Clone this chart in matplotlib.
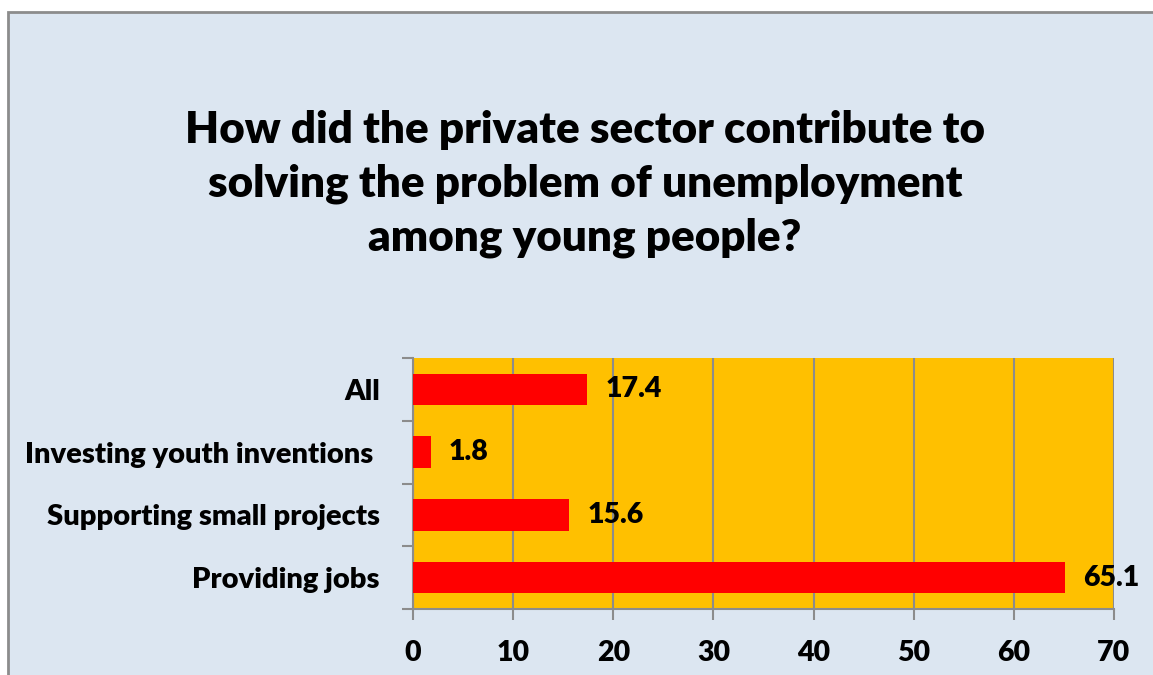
import matplotlib.pyplot as plt
from matplotlib.patches import Rectangle

# ------------------------
# Data
# ------------------------
categories = ['Providing jobs', 'Supporting small projects',
              'Investing youth inventions ', 'All']
values = [65.1, 15.6, 1.8, 17.4]
x_ticks = [0, 10, 20, 30, 40, 50, 60, 70]

title = ('How did the private sector contribute to\n'
         'solving the problem of unemployment\n'
         'among young people?')

plt.rcParams['font.family'] = ['Lato', 'DejaVu Sans']
FW = 'heavy'

W, H = 1153, 675
fig = plt.figure(figsize=(W / 100, H / 100), dpi=100)
fig.patch.set_facecolor('white')

# chart area background with grey frame (cut at right/bottom)
fig.patches.append(Rectangle((8 / W, -0.05), 1.1, 1 - 12 / H + 0.05,
                             transform=fig.transFigure, facecolor='#DCE6F1',
                             edgecolor='#8C8C8C', linewidth=2, zorder=-10))

# plot area
ax = fig.add_axes([413 / W, 1 - 609 / H, (1114 - 413) / W, (609 - 358) / H])
ax.set_facecolor('#FFC000')

y = range(len(categories))
ax.barh(y, values, height=0.5, color='#FF0000', zorder=3)
for yi, v in zip(y, values):
    ax.text(v + 1.8, yi, f'{v}', va='center', ha='left',
            fontsize=20.5, fontweight=FW, zorder=4)

ax.set_xlim(0, 70)
ax.set_ylim(-0.5, len(categories) - 0.5)
ax.set_xticks(x_ticks)
ax.set_xticklabels([str(t) for t in x_ticks], fontsize=20.5, fontweight=FW)
ax.set_yticks(y)
ax.set_yticklabels(categories, fontsize=21, fontweight=FW)
ax.set_yticks([-0.5, 0.5, 1.5, 2.5, 3.5], minor=True)
ax.tick_params(axis='y', which='major', length=0, pad=24)
ax.tick_params(axis='y', which='minor', length=8, width=1.5, color='#8C8C8C')
ax.tick_params(axis='x', length=8, width=1.5, color='#8C8C8C', pad=14)

ax.grid(axis='x', color='#8C8C8C', linewidth=1.5, zorder=1)
ax.set_axisbelow(True)
for side in ['top', 'right']:
    ax.spines[side].set_visible(False)
for side in ['left', 'bottom']:
    ax.spines[side].set_color('#8C8C8C')
    ax.spines[side].set_linewidth(1.5)

fig.text(585 / W, 1 - 184 / H, title, ha='center', va='center',
         fontsize=31.7, fontweight=FW, linespacing=1.4)

fig.savefig('out.png', dpi=100)
